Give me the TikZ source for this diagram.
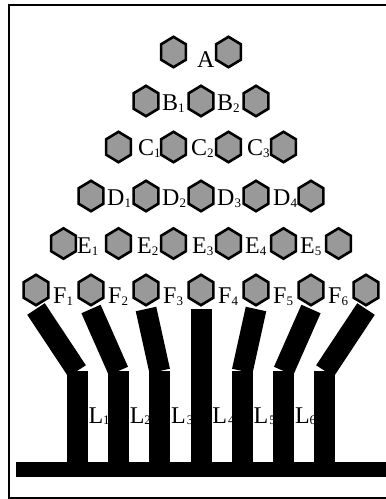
\documentclass[tikz,border=0pt]{standalone}
\usepackage{fontspec}
\setmainfont{Liberation Serif}
\definecolor{hexgray}{RGB}{153,153,153}
% small lowered index after a letter
\newcommand\subidx[1]{\raisebox{-2pt}{\fontsize{13}{13}\selectfont #1}}
\begin{document}
\begin{tikzpicture}[x=1pt,y=-1pt,
  hexstyle/.style={draw=black,fill=hexgray,line width=2.6pt,line join=miter},
  lbl/.style={anchor=base west,inner sep=0pt,font=\fontsize{24}{24}\selectfont},
  bar/.style={line width=21pt,line cap=butt,draw=black},
  hexcell/.pic={\path[hexstyle] (0,-15.2) -- (12.4,-7.7) -- (12.4,7.7) -- (0,15.2) -- (-12.4,7.7) -- (-12.4,-7.7) -- cycle;}]
\useasboundingbox (0,0) rectangle (386,499);

% outer frame, running off the right edge
\begin{scope}
  \clip (0,0) rectangle (386,499);
  \draw[line width=2pt] (9,5) rectangle (430,498);
\end{scope}

% legs: slanted upper part, vertical lower part
\foreach \i in {0,...,6}{
  \pgfmathsetmacro\hx{36+55*\i}
  \pgfmathsetmacro\kx{201+41.3*(\i-3)}
  \coordinate (bt\i) at (\hx,309);
  \coordinate (bk\i) at (\kx,371);
  \coordinate (bf\i) at (\kx,470);
  \draw[bar] (bt\i) -- (bk\i);
  \draw[bar] (bk\i) -- (bf\i);
}
% base plate
\fill[black] (16,462) rectangle (386,477);

% leg labels
\node[lbl] (l1) at (88.3,423) {L\raisebox{-1pt}{\fontsize{13}{13}\selectfont 1}};
\node[lbl] (l2) at (129.6,423) {L\raisebox{-1pt}{\fontsize{13}{13}\selectfont 2}};
\node[lbl] (l3) at (170.9,423) {L\hspace{1pt}\raisebox{-1pt}{\fontsize{13}{13}\selectfont 3}};
\node[lbl] (l4) at (212.2,423) {L\hspace{1pt}\raisebox{-1pt}{\fontsize{13}{13}\selectfont 4}};
\node[lbl] (l5) at (253.5,423) {L\hspace{1pt}\raisebox{-1pt}{\fontsize{13}{13}\selectfont 5}};
\node[lbl] (l6) at (294.8,423) {L\raisebox{-1pt}{\fontsize{13}{13}\selectfont 6}};

% row labels
\node[lbl] (lA) at (197,67.5) {A};
\node[lbl] (lB1) at (162,110) {B\subidx{1}};
\node[lbl] (lB2) at (217,110) {B\subidx{2}};
\node[lbl] (lC1) at (138,155) {C\subidx{1}};
\node[lbl] (lC2) at (191,155) {C\subidx{2}};
\node[lbl] (lC3) at (247,155) {C\subidx{3}};
\node[lbl] (lD1) at (107,205) {D\subidx{1}};
\node[lbl] (lD2) at (162,205) {D\subidx{2}};
\node[lbl] (lD3) at (217,205) {D\subidx{3}};
\node[lbl] (lD4) at (273,205) {D\subidx{4}};
\node[lbl] (lE1) at (77,253) {E\subidx{1}};
\node[lbl] (lE2) at (137,253) {E\subidx{2}};
\node[lbl] (lE3) at (192,253) {E\subidx{3}};
\node[lbl] (lE4) at (245,253) {E\subidx{4}};
\node[lbl] (lE5) at (300,253) {E\subidx{5}};
\node[lbl] (lF1) at (53,303) {F\subidx{1}};
\node[lbl] (lF2) at (108,303) {F\subidx{2}};
\node[lbl] (lF3) at (163,303) {F\subidx{3}};
\node[lbl] (lF4) at (218,303) {F\subidx{4}};
\node[lbl] (lF5) at (273,303) {F\subidx{5}};
\node[lbl] (lF6) at (328,303) {F\subidx{6}};

% triangular stack of hexagonal cells
\foreach \r/\yy in {0/52,1/101,2/147,3/196,4/243.5,5/290}{
  \pgfmathtruncatemacro\nlast{\r+1}
  \foreach \j in {0,...,\nlast}{
    \pgfmathsetmacro\xx{201+55*(\j-(\r+1)/2)}
    \pic (h\r-\j) at (\xx,\yy) {hexcell};
  }
}
\end{tikzpicture}
\end{document}
